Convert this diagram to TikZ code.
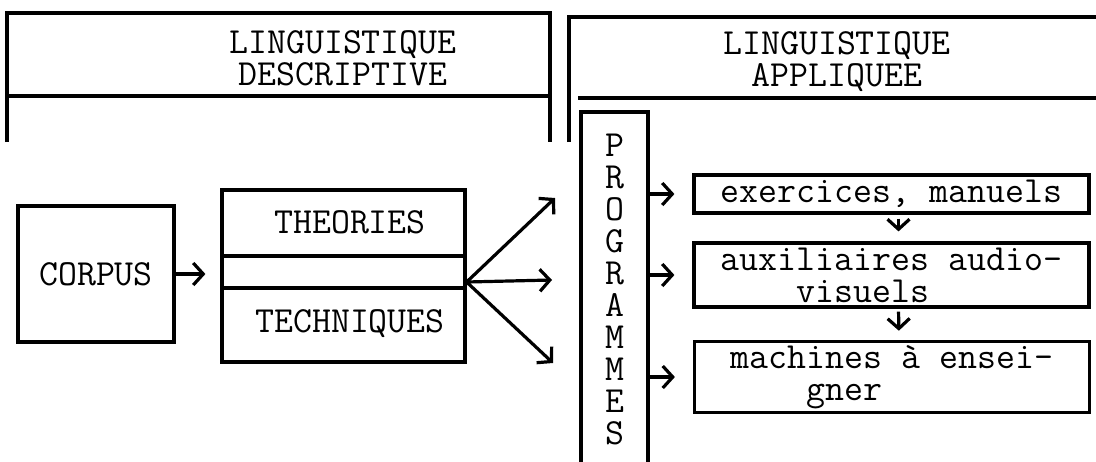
\documentclass[tikz,border=0pt]{standalone}
\usepackage{fontspec}
\usepackage{tikz}
\usetikzlibrary{positioning,arrows.meta}
\newcommand{\typewr}{\ttfamily\frenchspacing\fontsize{18.4}{16}\selectfont}
\tikzset{
>={Straight Barb[length=5pt,width=11pt]},
frame/.style={line width=1.6pt},
box/.style={draw, line width=1.6pt, inner xsep=0pt, inner ysep=2pt, font=\typewr},
txt/.style={inner sep=0pt, font=\typewr},
arr/.style={->, line width=1.6pt}}

\begin{document}
\begin{tikzpicture}[x=0.5pt,y=0.5pt,yscale=-1,xscale=1]
\useasboundingbox (0,0) rectangle (1096,461);
%Shape: header left
\draw [frame] (7,142) -- (7,13) -- (550,13) -- (550,142) ;
\draw [frame] (7,96) -- (550,96) ;
%Shape: header right
\draw [frame] (569,142) -- (569,17) -- (1096,17) ;
\draw [frame] (578,98) -- (1096,98) ;

% Text Node
\node [txt, align=center] (desc) at (343,58) {LINGUISTIQUE\\DESCRIPTIVE};
% Text Node
\node [txt, align=center] (appl) at (837,62) {LINGUISTIQUE\\APPLIQUEE};

%Shape: Rectangle
\node [box, minimum width=78pt, minimum height=68pt] (corpus) at (96,274) {CORPUS};
%Shape: Rectangle
\node [box, minimum width=121.5pt, minimum height=86pt] (mid) at (343.5,276) {};
\draw [frame] (mid.west |- 0,256) -- (mid.east |- 0,256) ;
\draw [frame] (mid.west |- 0,288) -- (mid.east |- 0,288) ;
% Text Node
\node [txt, anchor=base] (theo) at (350,233) {THEORIES};
% Text Node
\node [txt, anchor=base] (tech) at (350,332) {TECHNIQUES};

%Shape: column
\node [box, align=center, minimum width=33.5pt, minimum height=177pt] (prog) at (614.5,289) {P\\R\\O\\G\\R\\A\\M\\M\\E\\S};

%Shape: Rectangle
\node [box, align=left, minimum width=197.5pt, minimum height=19pt] (exer) at (891.5,194) {exercices, manuels};
%Shape: Rectangle
\node [box, align=left, minimum width=197.5pt, minimum height=32pt] (audi) at (891.5,275) {auxiliaires audio-\\\phantom{xxxx}visuels};
%Shape: Rectangle
\node [box, align=left, minimum width=197.5pt, minimum height=35pt] (mach) at (892,377) {machines à ensei-\\\phantom{xxxx}gner};

%Straight Lines
\draw [arr, shorten >=7.5pt] (corpus.east) -- (corpus.east -| mid.west) ;
\coordinate (fan) at (mid.east |- 0,282);
\coordinate (up) at (555,198);
\coordinate (ahead) at (552,280);
\coordinate (down) at (553,363);
\draw [arr] (fan) -- (up) ;
\draw [arr] (fan) -- (ahead) ;
\draw [arr] (fan) -- (down) ;
%Straight Lines
\draw [arr, shorten >=9pt] (prog.east |- exer.west) -- (exer.west) ;
\draw [arr, shorten >=9pt] (prog.east |- audi.west) -- (audi.west) ;
\draw [arr, shorten >=9pt] (prog.east |- mach.west) -- (mach.west) ;
%Straight Lines
\draw [arr, shorten <=2pt, shorten >=5pt] ([xshift=3.5pt]exer.south) -- ([xshift=3.5pt]audi.north) ;
\draw [arr, shorten <=1.5pt, shorten >=4.5pt] ([xshift=3.5pt]audi.south) -- ([xshift=3.5pt]mach.north) ;
\end{tikzpicture}
\end{document}
